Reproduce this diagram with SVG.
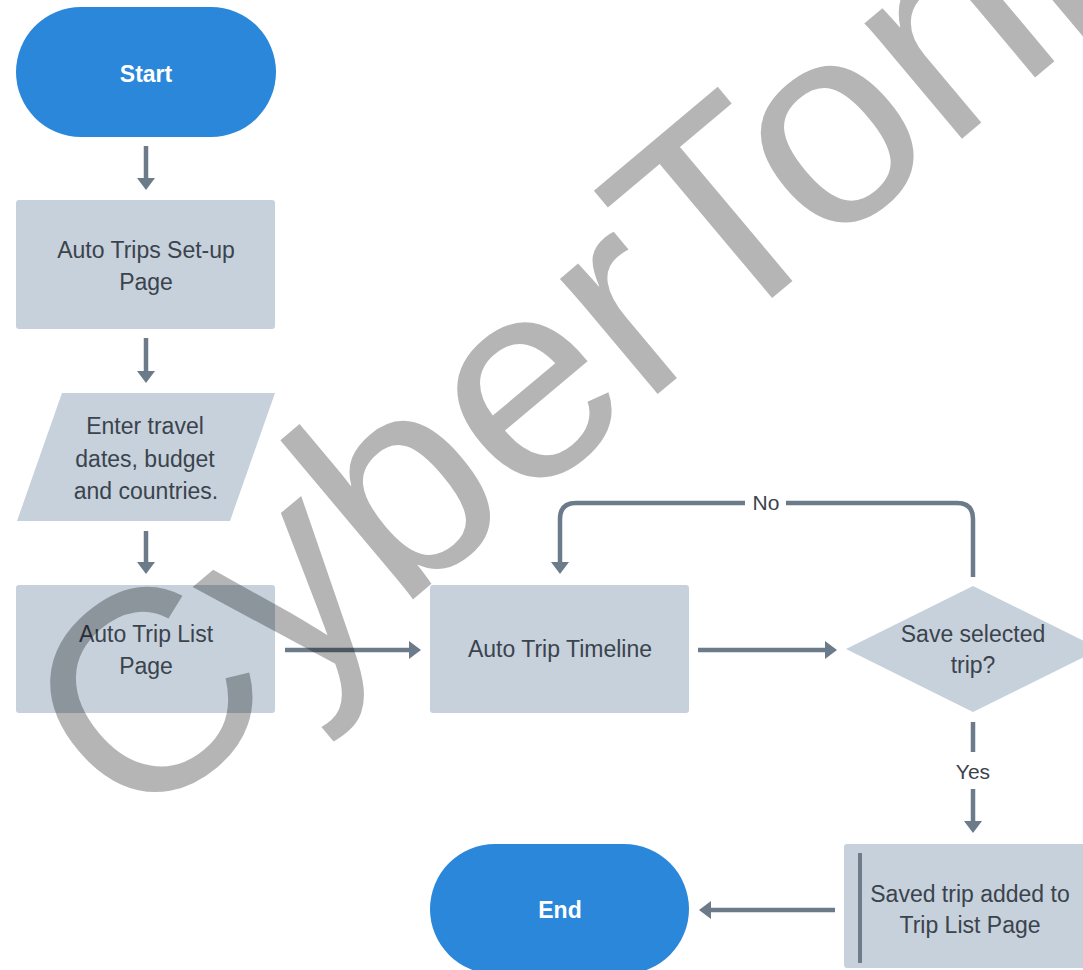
<svg xmlns="http://www.w3.org/2000/svg" width="1083" height="970" viewBox="0 0 1083 970">
<style>
.term{fill:#2b87d9}
.proc{fill:#c6d1dc}
.lbl{font-family:"Liberation Sans",Arial,sans-serif;font-size:23px;fill:#3b434c;text-anchor:middle}
.tl{font-family:"Liberation Sans",Arial,sans-serif;font-size:23px;font-weight:bold;fill:#ffffff;text-anchor:middle}
.el{font-family:"Liberation Sans",Arial,sans-serif;font-size:21px;fill:#3b434c;text-anchor:middle}
.cn{fill:none;stroke:#6b7b8a;stroke-width:4.5}
.wm{font-family:"Liberation Sans",Arial,sans-serif;font-size:286px;fill:#000000;fill-opacity:0.29}
</style>
<defs>
<marker id="ah" viewBox="0 0 12 18" refX="4" refY="9" markerWidth="12" markerHeight="18" markerUnits="userSpaceOnUse" orient="auto">
<path d="M0,0 L12,9 L0,18 z" fill="#6b7b8a"/>
</marker>
</defs>
<rect width="1083" height="970" fill="#ffffff"/>
<g id="start">
<rect class="term" x="16" y="7" width="260" height="130" rx="65"/>
<text class="tl" x="146" y="82">Start</text>
</g>
<g id="setup">
<rect class="proc" x="16" y="200" width="259" height="129" rx="3"/>
<text class="lbl" x="146" y="258">Auto Trips Set-up</text>
<text class="lbl" x="146" y="290">Page</text>
</g>
<g id="enter">
<polygon class="proc" points="62,393 275,393 230,521 17,521"/>
<text class="lbl" x="145" y="434">Enter travel</text>
<text class="lbl" x="145" y="467">dates, budget</text>
<text class="lbl" x="146" y="499">and countries.</text>
</g>
<g id="list">
<rect class="proc" x="16" y="585" width="259" height="128" rx="3"/>
<text class="lbl" x="146" y="642">Auto Trip List</text>
<text class="lbl" x="146" y="674">Page</text>
</g>
<g id="timeline">
<rect class="proc" x="430" y="585" width="259" height="128" rx="3"/>
<text class="lbl" x="560" y="657">Auto Trip Timeline</text>
</g>
<g id="decision">
<polygon class="proc" points="973,586 1100,649 973,712 846,649"/>
<text class="lbl" x="973" y="642">Save selected</text>
<text class="lbl" x="973" y="673">trip?</text>
</g>
<g id="saved">
<rect class="proc" x="844" y="844" width="256" height="124" rx="3"/>
<line x1="860" y1="853" x2="860" y2="963" stroke="#6f7d8b" stroke-width="4"/>
<text class="lbl" x="970" y="902">Saved trip added to</text>
<text class="lbl" x="970" y="933">Trip List Page</text>
</g>
<g id="end">
<rect class="term" x="430" y="844" width="259" height="130" rx="65"/>
<text class="tl" x="560" y="918">End</text>
</g>
<g id="connectors">
<path class="cn" d="M146,146 V182" marker-end="url(#ah)"/>
<path class="cn" d="M146,338 V375" marker-end="url(#ah)"/>
<path class="cn" d="M146,531 V566" marker-end="url(#ah)"/>
<path class="cn" d="M285,650 H413" marker-end="url(#ah)"/>
<path class="cn" d="M698,650 H829" marker-end="url(#ah)"/>
<path class="cn" d="M973,577 V519 Q973,503 957,503 H786"/>
<path class="cn" d="M745,503 H576 Q560,503 560,519 V566" marker-end="url(#ah)"/>
<text class="el" x="766" y="510">No</text>
<path class="cn" d="M973,722 V752"/>
<text class="el" x="973" y="779">Yes</text>
<path class="cn" d="M973,789 V825" marker-end="url(#ah)"/>
<path class="cn" d="M835,910 H707" marker-end="url(#ah)"/>
</g>
<text class="wm" transform="translate(131,836) rotate(-40)">CyberTonic</text>
</svg>
